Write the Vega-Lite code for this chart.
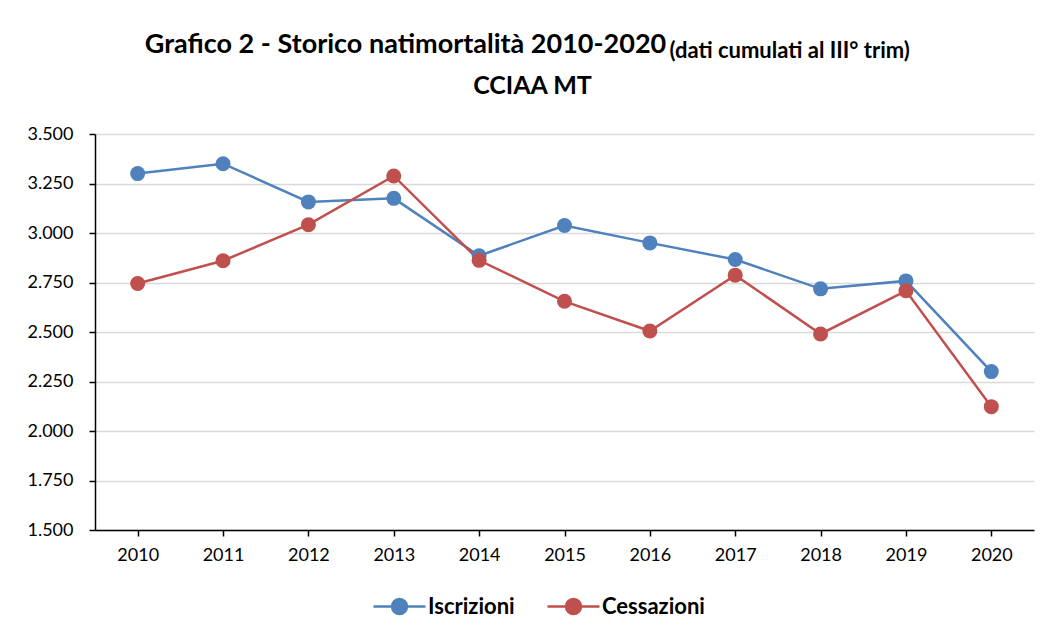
{
  "$schema": "https://vega.github.io/schema/vega-lite/v6.json",
  "autosize": "none",
  "width": 939,
  "height": 396,
  "padding": {"left": 95, "top": 134, "right": 15, "bottom": 111},
  "background": "white",
  "config": {
    "font": "Lato",
    "view": {"stroke": null}
  },
  "title": {
    "text": "Grafico 2 - Storico natimortalità 2010-2020",
    "subtitle": "CCIAA MT",
    "anchor": "middle",
    "frame": "group",
    "font": "Lato",
    "fontSize": 27,
    "fontWeight": "bold",
    "color": "black",
    "dx": -159,
    "subtitleFont": "Lato",
    "subtitleFontSize": 25,
    "subtitleFontWeight": "bold",
    "subtitleColor": "black",
    "subtitlePadding": 15,
    "offset": -61,
    "encode": {"subtitle": {"update": {"dx": {"value": -32}}}}
  },
  "data": {
    "values": [
      {"anno": "2010", "serie": "Iscrizioni", "valore": 3300},
      {"anno": "2011", "serie": "Iscrizioni", "valore": 3350},
      {"anno": "2012", "serie": "Iscrizioni", "valore": 3157},
      {"anno": "2013", "serie": "Iscrizioni", "valore": 3175},
      {"anno": "2014", "serie": "Iscrizioni", "valore": 2885},
      {"anno": "2015", "serie": "Iscrizioni", "valore": 3038},
      {"anno": "2016", "serie": "Iscrizioni", "valore": 2950},
      {"anno": "2017", "serie": "Iscrizioni", "valore": 2866},
      {"anno": "2018", "serie": "Iscrizioni", "valore": 2718},
      {"anno": "2019", "serie": "Iscrizioni", "valore": 2758},
      {"anno": "2020", "serie": "Iscrizioni", "valore": 2300},
      {"anno": "2010", "serie": "Cessazioni", "valore": 2745},
      {"anno": "2011", "serie": "Cessazioni", "valore": 2860},
      {"anno": "2012", "serie": "Cessazioni", "valore": 3042},
      {"anno": "2013", "serie": "Cessazioni", "valore": 3288},
      {"anno": "2014", "serie": "Cessazioni", "valore": 2862},
      {"anno": "2015", "serie": "Cessazioni", "valore": 2655},
      {"anno": "2016", "serie": "Cessazioni", "valore": 2505},
      {"anno": "2017", "serie": "Cessazioni", "valore": 2787},
      {"anno": "2018", "serie": "Cessazioni", "valore": 2490},
      {"anno": "2019", "serie": "Cessazioni", "valore": 2708},
      {"anno": "2020", "serie": "Cessazioni", "valore": 2123}
    ]
  },
  "mark": {"type": "line", "strokeWidth": 2.5, "point": {"filled": true, "size": 225, "opacity": 1}},
  "encoding": {
    "x": {
      "field": "anno",
      "type": "ordinal",
      "scale": {"type": "point", "padding": 0.5},
      "axis": {
        "title": null,
        "labelAngle": 0,
        "labelFontSize": 18,
        "labelColor": "black",
        "labelPadding": 10,
        "domainColor": "black",
        "domainWidth": 1.5,
        "tickColor": "black",
        "tickWidth": 1.5,
        "tickSize": 6,
        "grid": false
      }
    },
    "y": {
      "field": "valore",
      "type": "quantitative",
      "scale": {"domain": [1500, 3500], "nice": false, "zero": false},
      "axis": {
        "values": [1500, 1750, 2000, 2250, 2500, 2750, 3000, 3250, 3500],
        "labelExpr": "replace(format(datum.value, ','), ',', '.')",
        "labelFontSize": 18,
        "labelColor": "black",
        "labelPadding": 16,
        "domainColor": "black",
        "domainWidth": 1.5,
        "tickColor": "black",
        "tickWidth": 1.5,
        "tickSize": 6,
        "gridColor": "#D9D9D9",
        "gridWidth": 1.5,
        "title": "(dati cumulati al III° trim)",
        "titleAngle": 0,
        "titleAlign": "left",
        "titleBaseline": "alphabetic",
        "titleX": 574,
        "titleY": -77,
        "titleFont": "Lato",
        "titleFontSize": 22,
        "titleFontWeight": "bold",
        "titleColor": "black"
      }
    },
    "color": {
      "field": "serie",
      "type": "nominal",
      "scale": {"domain": ["Iscrizioni", "Cessazioni"], "range": ["#4F81BD", "#C0504D"]},
      "legend": {
        "title": null,
        "orient": "none",
        "direction": "horizontal",
        "legendX": 277,
        "legendY": 461,
        "symbolType": "M-2.6,0L2.6,0M0.75,0A0.75,0.75,0,1,1,-0.75,0A0.75,0.75,0,1,1,0.75,0",
        "symbolSize": 400,
        "symbolStrokeWidth": 2.5,
        "symbolOffset": 16,
        "labelOffset": 17,
        "labelFont": "Lato",
        "labelFontSize": 22,
        "labelFontWeight": "bold",
        "labelColor": "black",
        "columnPadding": 27,
        "encode": {
          "symbols": {"update": {"fill": {"scale": "color", "field": "value"}, "stroke": {"scale": "color", "field": "value"}, "opacity": {"value": 1}}}
        }
      }
    }
  }
}
